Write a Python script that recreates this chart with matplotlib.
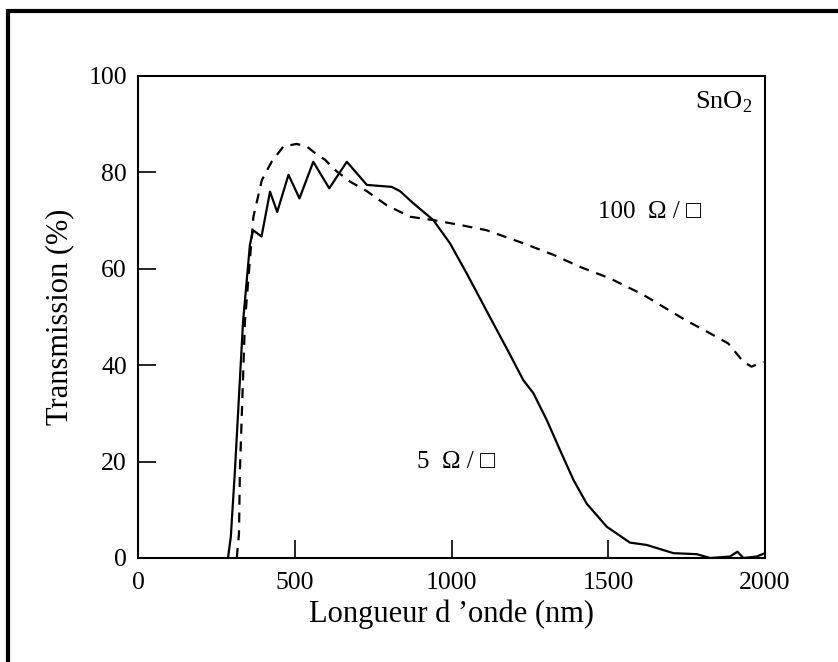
import numpy as np
import matplotlib.pyplot as plt
from matplotlib.patches import Rectangle

# 5 ohm/sq film (solid)
wl_5 = [287, 296, 309, 335, 357, 367, 394, 421, 444, 480, 515, 559, 610, 666,
        730, 809, 836, 878, 942, 995, 1048, 1133, 1180, 1229, 1261, 1304, 1346,
        1389, 1431, 1495, 1569, 1623, 1708, 1782, 1825, 1888, 1912, 1931, 1973, 2000]
tr_5 = [0, 4.4, 18, 49, 65, 68, 66.7, 76, 71.8, 79.5, 74.6, 82.2, 76.7, 82.2,
        77.4, 77.0, 76.1, 73.6, 70.1, 65.3, 59.1, 48.7, 43, 36.9, 34.2, 28.6, 22.4,
        16.2, 11.3, 6.5, 3.2, 2.7, 1.0, 0.8, 0.0, 0.3, 1.3, 0.0, 0.3, 1.0]

# 100 ohm/sq film (dashed)
wl_100 = [315, 322, 325, 341, 368, 395, 426, 464, 506, 538, 565, 597, 634, 676,
          730, 793, 868, 942, 1027, 1112, 1229, 1325, 1410, 1506, 1612, 1676,
          1745, 1814, 1883, 1931, 1957, 1995]
tr_100 = [0, 5, 18, 49, 70.8, 78.4, 82.2, 85.4, 85.9, 85.4, 84.0, 82.6, 80.2, 78.1,
          76.1, 73.2, 70.8, 70.1, 69.1, 68.0, 65.3, 62.9, 60.4, 58.0, 54.6, 52.1,
          49.4, 47.0, 44.5, 40.7, 39.7, 40.7]

xticks = [0, 500, 1000, 1500, 2000]
yticks = [0, 20, 40, 60, 80, 100]

plt.rcParams['font.family'] = ['Liberation Serif', 'DejaVu Sans']
plt.rcParams['mathtext.fontset'] = 'custom'
plt.rcParams['mathtext.rm'] = 'Liberation Serif'

fig = plt.figure(figsize=(8.38, 6.62), dpi=100)
ax = fig.add_axes([0.1647, 0.1571, 0.7482, 0.7281])

ax.plot(wl_5, tr_5, color='black', lw=1.6)
ax.plot(wl_100, tr_100, color='black', lw=1.6, ls=(0, (4.5, 3.5)))

ax.set_xlim(0, 2000)
ax.set_ylim(0, 100)
ax.set_xticks(xticks)
ax.set_yticks(yticks)
ax.tick_params(direction='in', length=13, width=1.2, labelsize=18.5, pad=10,
               top=False, right=False)
ax.tick_params(axis='y', pad=8)
for s in ax.spines.values():
    s.set_linewidth(1.5)

ax.set_xlabel("Longueur d ’onde (nm)", fontsize=22, labelpad=4)
ax.set_ylabel("Transmission (%)", fontsize=22, labelpad=10)

ax.text(1958, 94.6, r"SnO$_\mathrm{2}$", fontsize=19, ha='right', va='center')
ax.text(1467, 71.8, "100  Ω / □", fontsize=18, ha='left', va='center')
ax.text(890, 19.9, "5  Ω / □", fontsize=18, ha='left', va='center')

# thick outer frame, running off the right and bottom edges
fig.patches.append(Rectangle((7.5 / 838, -0.1), 1.1, 0.984 + 0.1,
                             transform=fig.transFigure, fill=False,
                             lw=3, edgecolor='black'))

fig.savefig('out.png', dpi=100)
